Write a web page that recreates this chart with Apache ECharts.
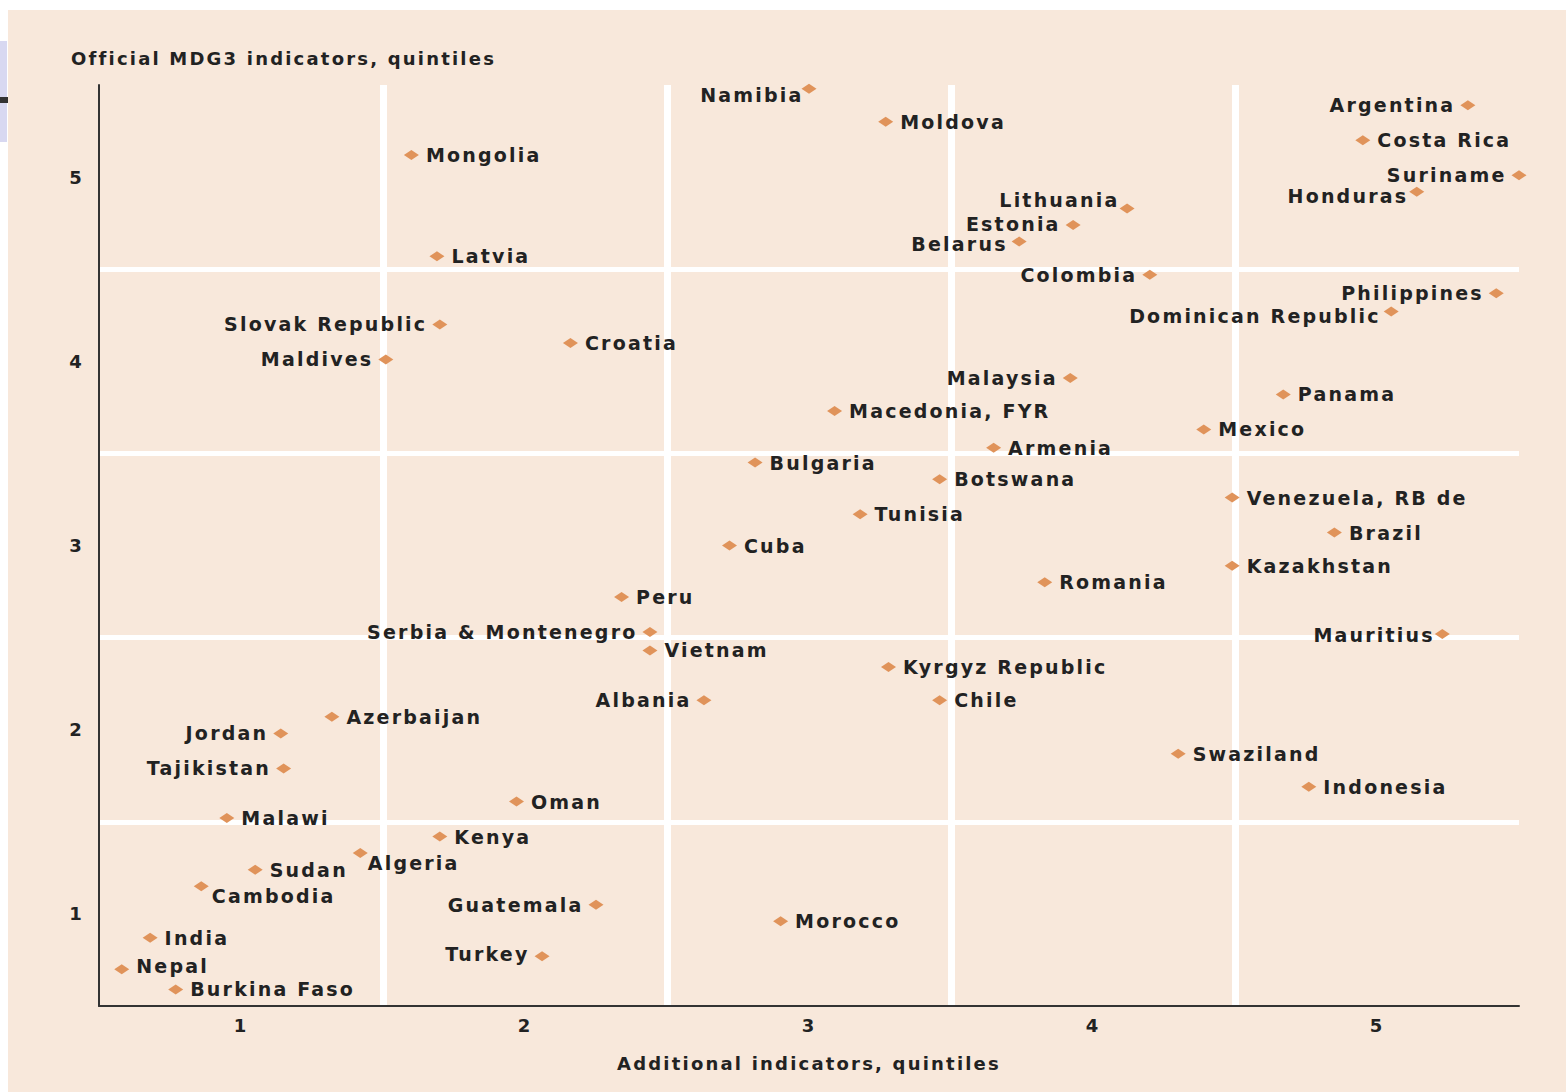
<!DOCTYPE html>
<html>
<head>
    <meta charset="UTF-8"/>
    <title>MDG3 quintiles</title>
    <script type="text/javascript" src="https://cdn.jsdelivr.net/npm/echarts@6/dist/echarts.min.js"></script>
    <style>
        html, body { margin: 0; padding: 0; background: #fff; }
        #main { width: 1566px; height: 1092px; }
        /* the original type is set very wide */
        #main text { letter-spacing: 2.2px; }
    </style>
</head>
<body>
<div id="main"></div>
<script>
    var countries = [
        'Namibia', 'Moldova', 'Mongolia', 'Argentina', 'Costa Rica', 'Suriname', 'Honduras',
        'Lithuania', 'Estonia', 'Belarus', 'Latvia', 'Colombia', 'Philippines', 'Dominican Republic',
        'Slovak Republic', 'Croatia', 'Maldives', 'Malaysia', 'Panama', 'Macedonia, FYR', 'Mexico',
        'Armenia', 'Bulgaria', 'Botswana', 'Venezuela, RB de', 'Tunisia', 'Brazil', 'Cuba',
        'Kazakhstan', 'Romania', 'Peru', 'Serbia & Montenegro', 'Mauritius', 'Vietnam',
        'Kyrgyz Republic', 'Albania', 'Chile', 'Azerbaijan', 'Jordan', 'Swaziland', 'Tajikistan',
        'Indonesia', 'Oman', 'Malawi', 'Kenya', 'Algeria', 'Sudan', 'Cambodia', 'Guatemala',
        'Morocco', 'India', 'Turkey', 'Nepal', 'Burkina Faso'
    ];
    // additional indicators (x)
    var additional = [
        3.00, 3.27, 1.60, 5.32, 4.95, 5.50, 5.14,
        4.12, 3.93, 3.74, 1.69, 4.20, 5.42, 5.05,
        1.70, 2.16, 1.51, 3.92, 4.67, 3.09, 4.39,
        3.65, 2.81, 3.46, 4.49, 3.18, 4.85, 2.72,
        4.49, 3.83, 2.34, 2.44, 5.23, 2.44,
        3.28, 2.63, 3.46, 1.32, 1.14, 4.30, 1.15,
        4.76, 1.97, 0.95, 1.70, 1.42, 1.05, 0.86, 2.25,
        2.90, 0.68, 2.06, 0.58, 0.77
    ];
    // official MDG3 indicators (y)
    var official = [
        5.48, 5.30, 5.12, 5.39, 5.20, 5.01, 4.92,
        4.83, 4.74, 4.65, 4.57, 4.47, 4.37, 4.27,
        4.20, 4.10, 4.01, 3.91, 3.82, 3.73, 3.63,
        3.53, 3.45, 3.36, 3.26, 3.17, 3.07, 3.00,
        2.89, 2.80, 2.72, 2.53, 2.52, 2.43,
        2.34, 2.16, 2.16, 2.07, 1.98, 1.87, 1.79,
        1.69, 1.61, 1.52, 1.42, 1.33, 1.24, 1.15, 1.05,
        0.96, 0.87, 0.77, 0.70, 0.59
    ];
    var xTickValues = [1, 2, 3, 4, 5];
    var yTickValues = [1, 2, 3, 4, 5];

    // names whose label sits to the left of the marker
    var leftLabelled = ['Namibia', 'Argentina', 'Suriname', 'Honduras', 'Lithuania', 'Estonia',
        'Belarus', 'Colombia', 'Philippines', 'Dominican Republic', 'Slovak Republic', 'Maldives',
        'Malaysia', 'Serbia & Montenegro', 'Mauritius', 'Albania', 'Jordan', 'Tajikistan',
        'Guatemala', 'Turkey'];
    // small hand nudges, as in the printed chart
    var labelNudge = {
        'Namibia': [7, 6],
        'Algeria': [-7, 10],
        'Cambodia': [-4, 10],
        'Lithuania': [5, -8],
        'Estonia': [0, -1],
        'Belarus': [1, 2],
        'Honduras': [4, 4],
        'Dominican Republic': [2, 4],
        'Mauritius': [5, 1],
        'Nepal': [0, -3],
        'Turkey': [0, -2]
    };

    var textColor = '#222222';
    var font = 'DejaVu Sans';

    var points = [];
    for (var i = 0; i < countries.length; i++) {
        var left = leftLabelled.indexOf(countries[i]) >= 0;
        points.push({
            name: countries[i],
            value: [additional[i], official[i]],
            label: {
                position: left ? 'left' : 'right',
                distance: left ? 5 : 7,
                offset: labelNudge[countries[i]] || [0, 0]
            }
        });
    }

    function tickFormatter(list) {
        return function (v) {
            return list.indexOf(Math.round(v * 100) / 100) >= 0 ? String(v) : '';
        };
    }

    var option = {
        backgroundColor: '#f8e8db',
        animation: false,
        title: {
            text: 'Official MDG3 indicators, quintiles',
            left: 66,
            top: 44,
            textStyle: { fontFamily: font, fontSize: 18, fontWeight: 'bold', color: textColor }
        },
        grid: { left: 99, right: 47, top: 85, bottom: 86 },
        xAxis: [{
            type: 'value', min: 0.5, max: 5.5, interval: 0.5,
            name: 'Additional indicators, quintiles',
            nameLocation: 'middle', nameGap: 48,
            nameTextStyle: { fontFamily: font, fontSize: 18, fontWeight: 'bold', color: textColor },
            axisLine: { lineStyle: { color: '#333', width: 2 } },
            axisTick: { show: false },
            splitLine: { show: false },
            axisLabel: { formatter: tickFormatter(xTickValues), margin: 10,
                fontFamily: font, fontSize: 18, fontWeight: 'bold', color: textColor }
        }, {
            type: 'value', min: 0.5, max: 5.5, interval: 1, position: 'bottom',
            axisLine: { show: false }, axisTick: { show: false }, axisLabel: { show: false },
            splitLine: { show: true, showMinLine: false, showMaxLine: false,
                lineStyle: { color: '#ffffff', width: 7 } }
        }],
        yAxis: [{
            type: 'value', min: 0.5, max: 5.5, interval: 0.5,
            axisLine: { show: true, lineStyle: { color: '#333', width: 2 } },
            axisTick: { show: false },
            splitLine: { show: false },
            axisLabel: { formatter: tickFormatter(yTickValues), margin: 15,
                fontFamily: font, fontSize: 18, fontWeight: 'bold', color: textColor }
        }, {
            type: 'value', min: 0.5, max: 5.5, interval: 1, position: 'left',
            axisLine: { show: false }, axisTick: { show: false }, axisLabel: { show: false },
            splitLine: { show: true, showMinLine: false, showMaxLine: false,
                lineStyle: { color: '#ffffff', width: 5 } }
        }],
        graphic: [
            { type: 'rect', left: 0, top: 0, shape: { width: 1566, height: 10 }, style: { fill: '#ffffff' } },
            { type: 'rect', left: 0, top: 0, shape: { width: 8, height: 1092 }, style: { fill: '#ffffff' } },
            { type: 'rect', left: 0, top: 41, shape: { width: 7, height: 101 }, style: { fill: '#d8d8f1' } },
            { type: 'rect', left: 0, top: 97, shape: { width: 8, height: 6 }, style: { fill: '#333333' } }
        ],
        series: [{
            type: 'scatter',
            xAxisIndex: 0,
            yAxisIndex: 0,
            clip: false,
            symbol: 'diamond',
            symbolSize: [15, 10],
            itemStyle: { color: '#e0935a', opacity: 1 },
            label: {
                show: true,
                formatter: '{b}',
                fontFamily: font,
                fontSize: 19,
                fontWeight: 'bold',
                color: textColor,
                opacity: 1
            },
            emphasis: { disabled: true },
            data: points
        }]
    };

    var chart = echarts.init(document.getElementById('main'), null, { renderer: 'svg' });
    chart.setOption(option);
</script>
</body>
</html>
